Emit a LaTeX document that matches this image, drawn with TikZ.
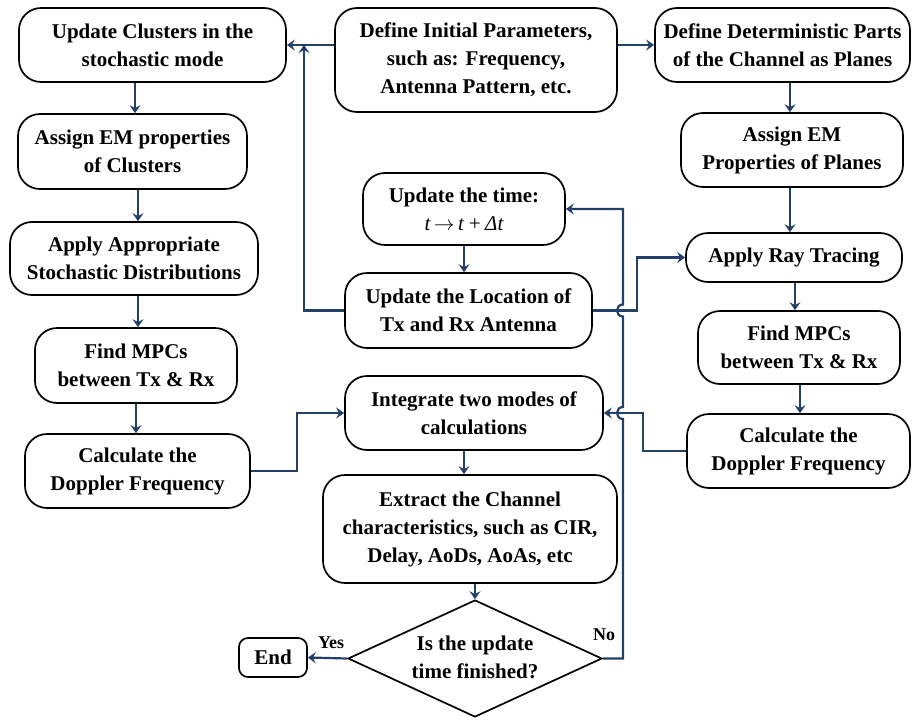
\documentclass[tikz,border=0pt]{standalone}
\usepackage{fontspec}
\setmainfont{Liberation Serif}
\usetikzlibrary{shapes.geometric,arrows.meta}
\definecolor{lc}{RGB}{35,64,105}
\begin{document}
\begin{tikzpicture}[x=1pt,y=-1pt,
 box/.style={draw=black, line width=1.7pt, rounded corners=22pt, align=center, inner sep=2pt, font=\bfseries\fontsize{21}{28}\selectfont},
 dia/.style={draw=black, line width=1.7pt, diamond, minimum width=254pt, minimum height=117pt, inner sep=0pt},
 txt/.style={align=center, inner sep=0pt, font=\bfseries\fontsize{21}{28}\selectfont},
 lbl/.style={inner sep=0pt, font=\bfseries\fontsize{18}{20}\selectfont},
 arr/.style={draw=lc, line width=2.2pt, -{Stealth[length=8pt,width=11pt,inset=3pt]}},
 ln/.style={draw=lc, line width=2.2pt}]
\useasboundingbox (0,0) rectangle (913,720);
% left column
\node[box, minimum width=267pt, minimum height=74pt] (B1) at (152.5,45) {Update Clusters in the\\stochastic mode};
\node[box, minimum width=229pt, minimum height=75pt] (B2) at (132.5,151.5) {Assign EM properties\\of Clusters};
\node[box, minimum width=248pt, minimum height=73pt] (B3) at (134,258.5) {Apply Appropriate\\Stochastic Distributions};
\node[box, minimum width=202pt, minimum height=75pt] (B4) at (136,365.5) {Find MPCs\\between Tx \& Rx};
\node[box, minimum width=225pt, minimum height=74pt] (B5) at (137.5,471) {Calculate the\\Doppler Frequency};
% centre column
\node[box, minimum width=282pt, minimum height=104pt] (C1) at (476,60) {Define Initial Parameters,\\such as: Frequency,\\Antenna Pattern, etc.};
\node[box, minimum width=202pt, minimum height=72pt] (C2) at (464,209) {Update the time:\\{\mdseries\itshape t\,$\rightarrow$\,t\,+\,Δt}};
\node[box, minimum width=247pt, minimum height=75pt] (C3) at (468.5,310.5) {Update the Location of\\Tx and Rx Antenna};
\node[box, minimum width=258pt, minimum height=74pt] (C4) at (474,413) {Integrate two modes of\\calculations};
\node[box, minimum width=294pt, minimum height=108pt] (C5) at (470,529) {Extract the Channel\\characteristics, such as CIR,\\Delay, AoDs, AoAs, etc};
\node[dia] (D) at (475,658.5) {};
\node[txt] (Dt) at (475,657) {Is the update\\time finished?};
\node[box, rounded corners=9pt, minimum width=68pt, minimum height=39pt] (E) at (273,657.5) {End};
\node[lbl] (yes) at (331,643) {Yes};
\node[lbl] (no) at (604,635) {No};
% right column
\node[box, minimum width=255pt, minimum height=74pt] (R1) at (782.5,45) {Define Deterministic Parts\\of the Channel as Planes};
\node[box, minimum width=222pt, minimum height=74pt] (R2) at (792,150) {Assign EM\\Properties of Planes};
\node[box, minimum width=216pt, minimum height=49pt] (R3) at (794,257.5) {Apply Ray Tracing};
\node[box, minimum width=202pt, minimum height=73pt] (R4) at (799,347.5) {Find MPCs\\between Tx \& Rx};
\node[box, minimum width=223pt, minimum height=74pt] (R5) at (798.5,451) {Calculate the\\Doppler Frequency};
% connectors
\draw[arr] (C1.west |- B1.east) -- (B1.east);
\draw[arr] (C1.east |- R1.west) -- (R1.west);
\draw[arr] (C3.west) -| (304,45);
\draw[arr] (B1.south -| 135,0) -- (B2.north -| 135,0);
\draw[arr] (B2.south -| 138,0) -- (B3.north -| 138,0);
\draw[arr] (B3.south -| 138,0) -- (B4.north -| 138,0);
\draw[arr] (B4.south -| 136,0) -- (B5.north -| 136,0);
\draw[arr] (B5.east) -- (297,471) |- (C4.west);
\draw[arr] (C2.south) -- (C3.north -| C2.south);
\draw[arr] (C3.east) -- (637,310.5) |- (R3.west);
\draw[arr] (R1.south -| 790,0) -- (R2.north -| 790,0);
\draw[arr] (R2.south -| 790,0) -- (R3.north -| 790,0);
\draw[arr] (R3.south -| 795,0) -- (R4.north -| 795,0);
\draw[arr] (R4.south -| 800,0) -- (R5.north -| 800,0);
\draw[arr] (R5.west) -- (643,451) |- (C4.east);
\draw[arr] (C4.south -| 464,0) -- (C5.north -| 464,0);
\draw[arr] (C5.south -| D.north) -- (D.north);
\draw[arr] (D.west) -- (E.east);
\draw[arr] (D.east) -- (623,658.5) -- (623,419) .. controls (615,419) and (615,407) .. (623,407) -- (623,316.5) .. controls (615,316.5) and (615,304.5) .. (623,304.5) -- (623,209) -- (C2.east);
\end{tikzpicture}
\end{document}
